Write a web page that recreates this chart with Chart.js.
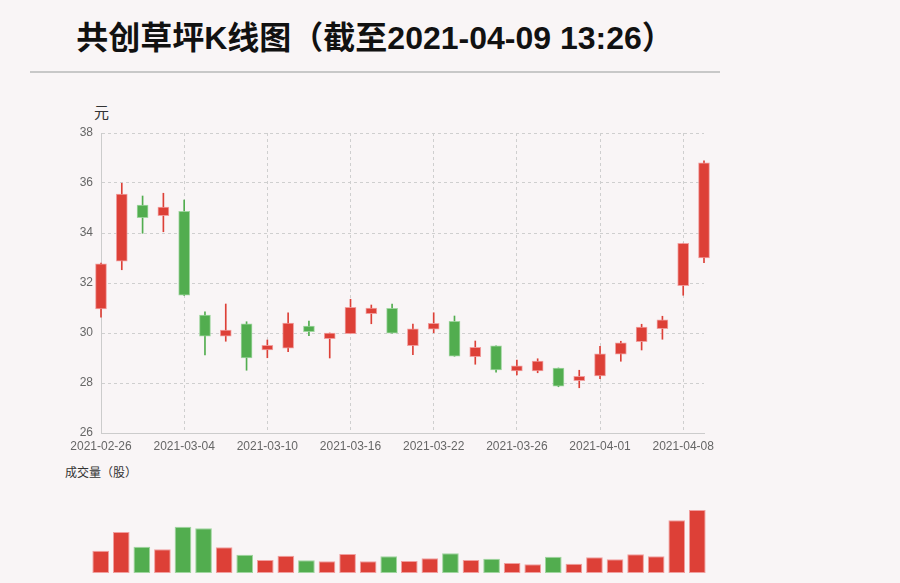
<!DOCTYPE html>
<html>
<head>
<meta charset="utf-8">
<script src="https://cdn.jsdelivr.net/npm/chart.js@4/dist/chart.umd.min.js"></script>
<style>
    body { margin: 0; background: #f9f5f6; font-family: "Liberation Sans", "Noto Sans CJK SC", sans-serif; }
    #page { position: relative; width: 900px; height: 583px; overflow: hidden; }
    #title { position: absolute; left: 30px; top: 14px; width: 690px; text-align: center; font-size: 32px; font-weight: bold; color: #111; line-height: 48px; }
    #rule { position: absolute; left: 30px; top: 71px; width: 690px; height: 2px; background: #c8c8c8; }
    #unit { position: absolute; left: 94px; top: 101px; font-size: 15px; color: #333; }
    #volLabel { position: absolute; left: 65px; top: 463px; font-size: 12px; color: #333; }
    #klineBox { position: absolute; left: 0; top: 90px; width: 760px; height: 380px; }
    #volBox { position: absolute; left: 0; top: 480px; width: 760px; height: 103px; }
</style>
</head>
<body>
<div id="page">
    <div id="title">共创草坪K线图（截至2021-04-09 13:26）</div>
    <div id="rule"></div>
    <div id="unit">元</div>
    <div id="volLabel">成交量（股）</div>
    <div id="klineBox"><canvas id="klineChart"></canvas></div>
    <div id="volBox"><canvas id="volumeChart"></canvas></div>
</div>
<script>
const dates = ['2021-02-26', '2021-03-01', '2021-03-02', '2021-03-03', '2021-03-04', '2021-03-05',
    '2021-03-08', '2021-03-09', '2021-03-10', '2021-03-11', '2021-03-12', '2021-03-15',
    '2021-03-16', '2021-03-17', '2021-03-18', '2021-03-19', '2021-03-22', '2021-03-23',
    '2021-03-24', '2021-03-25', '2021-03-26', '2021-03-29', '2021-03-30', '2021-03-31',
    '2021-04-01', '2021-04-02', '2021-04-06', '2021-04-07', '2021-04-08', '2021-04-09'];
const openPrices  = [30.96, 32.87, 35.12, 34.69, 34.87, 30.72, 29.87, 30.37, 29.32, 29.39,
    30.28, 29.77, 29.97, 30.77, 30.99, 29.49, 30.15, 30.47, 29.05, 29.49,
    28.48, 28.48, 28.60, 28.09, 28.28, 29.15, 29.65, 30.17, 31.89, 33.00];
const closePrices = [32.77, 35.56, 34.61, 35.04, 31.51, 29.87, 30.12, 29.00, 29.51, 30.40,
    30.05, 30.00, 31.03, 31.00, 29.99, 30.17, 30.39, 29.07, 29.43, 28.52,
    28.69, 28.88, 27.87, 28.27, 29.17, 29.61, 30.24, 30.53, 33.59, 36.81];
const highPrices  = [32.80, 35.99, 35.48, 35.59, 35.32, 30.85, 31.16, 30.45, 29.72, 30.81,
    30.48, 30.00, 31.35, 31.12, 31.16, 30.36, 30.81, 30.68, 29.68, 29.49,
    28.92, 28.97, 28.60, 28.51, 29.47, 29.67, 30.35, 30.67, 33.59, 36.89];
const lowPrices   = [30.63, 32.53, 33.99, 34.05, 31.50, 29.12, 29.67, 28.51, 29.01, 29.25,
    29.89, 29.00, 29.97, 30.37, 29.99, 29.13, 30.01, 29.07, 28.75, 28.43,
    28.32, 28.41, 27.85, 27.81, 28.17, 28.87, 29.32, 29.75, 31.51, 32.81];
const volumes = [2230000, 4100000, 2630000, 2370000, 4630000, 4470000, 2570000, 1830000, 1300000, 1730000,
    1270000, 1170000, 1900000, 1170000, 1670000, 1200000, 1470000, 1970000, 1300000, 1430000,
    1000000, 870000, 1630000, 930000, 1570000, 1370000, 1870000, 1670000, 5270000, 6300000];
const priceTicks = [26, 28, 30, 32, 34, 36, 38];

const UP = '#dd4037', DOWN = '#52ad4f';
const UP_EDGE = 'rgba(240,150,150,0.9)', DOWN_EDGE = 'rgba(150,210,150,0.9)';

const isUp = openPrices.map((o, i) => closePrices[i] >= o);
const fill = isUp.map(u => (u ? UP : DOWN));
const edge = isUp.map(u => (u ? UP_EDGE : DOWN_EDGE));

// K line: bodies and wicks as floating bars
new Chart(document.getElementById('klineChart'), {
    type: 'bar',
    data: {
        labels: dates,
        datasets: [
            {
                label: 'wick',
                data: lowPrices.map((l, i) => [l, highPrices[i]]),
                backgroundColor: fill,
                barThickness: 1,
                grouped: false,
                clip: false,
                order: 2,
            },
            {
                label: 'body',
                data: openPrices.map((o, i) => [o, closePrices[i]]),
                backgroundColor: fill,
                borderColor: edge,
                borderWidth: 1,
                borderSkipped: false,
                barThickness: 11,
                grouped: false,
                clip: false,
                order: 1,
            },
        ],
    },
    options: {
        responsive: true,
        maintainAspectRatio: false,
        animation: false,
        layout: { padding: { left: 60, right: 56, top: 43, bottom: 12 } },
        plugins: { legend: { display: false }, tooltip: { enabled: false } },
        scales: {
            x: {
                offset: false,
                grid: {
                    offset: false,
                    drawTicks: false,
                    color: (c) => (c.index % 4 === 0 ? '#cfcfcf' : 'rgba(0,0,0,0)'),
                },
                border: { color: '#cccccc', dash: [3, 3] },
                ticks: {
                    autoSkip: false,
                    maxRotation: 0,
                    padding: 6,
                    color: '#666',
                    font: { size: 12 },
                    callback: function (val, idx) { return idx % 4 === 0 ? dates[idx] : ''; },
                },
                afterFit: (s) => { s.height = 25; },
            },
            y: {
                min: priceTicks[0],
                max: priceTicks[priceTicks.length - 1],
                grid: { drawTicks: false, color: '#cfcfcf' },
                border: { color: '#cccccc', dash: [3, 3] },
                afterBuildTicks: (s) => { s.ticks = priceTicks.map(v => ({ value: v })); },
                ticks: { padding: 8, color: '#666', font: { size: 12 } },
                afterFit: (s) => { s.width = 41; },
            },
        },
    },
});

// volume bars
new Chart(document.getElementById('volumeChart'), {
    type: 'bar',
    data: {
        labels: dates,
        datasets: [{
            label: '成交量',
            data: volumes,
            backgroundColor: fill,
            borderColor: edge,
            borderWidth: 1,
            borderSkipped: false,
            barPercentage: 0.81,
            categoryPercentage: 1,
        }],
    },
    options: {
        responsive: true,
        maintainAspectRatio: false,
        animation: false,
        layout: { padding: { left: 90.4, right: 52.4, top: 5, bottom: 10 } },
        plugins: { legend: { display: false }, tooltip: { enabled: false } },
        scales: {
            x: { display: false },
            y: { display: false, min: 0, max: 8800000 },
        },
    },
});
</script>
</body>
</html>
